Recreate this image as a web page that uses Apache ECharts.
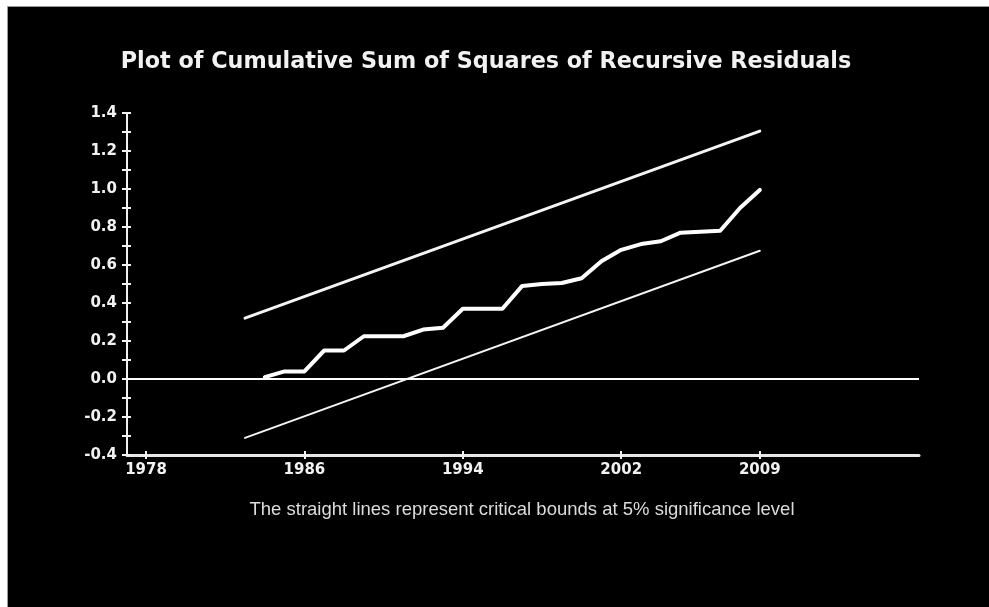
<!DOCTYPE html>
<html><head><meta charset="utf-8">
<script src="https://cdn.jsdelivr.net/npm/echarts@6/dist/echarts.min.js"></script>
<style>html,body{margin:0;padding:0;background:#fff}#c{width:989px;height:607px}</style>
</head><body><div id="c"></div>
<script>
// Data
const years = [1984,1985,1986,1987,1988,1989,1990,1991,1992,1993,1994,1995,1996,1997,1998,1999,2000,2001,2002,2003,2004,2005,2006,2007,2008,2009];
const cusumsq = [0.01,0.04,0.04,0.15,0.15,0.225,0.225,0.225,0.26,0.27,0.37,0.37,0.37,0.49,0.50,0.505,0.53,0.62,0.68,0.71,0.725,0.77,0.775,0.78,0.90,0.995];
const boundYears = [1983, 2009];
const upperBound = [0.32, 1.305];
const lowerBound = [-0.31, 0.675];
const xTickYears = [1978, 1986, 1994, 2002, 2009];
const yMin = -0.4, yMax = 1.4, yStep = 0.2;
const titleText = 'Plot of Cumulative Sum of Squares of Recursive Residuals';
const footText = 'The straight lines represent critical bounds at 5% significance level';

const FG = '#f2f2f2';
const gridBox = {left: 127, right: 70, top: 113, bottom: 152};
const xMin = 1977.04, xMax = 2017.04;

const pairs = (xs, ys) => xs.map((x, i) => [x, ys[i]]);

const chart = echarts.init(document.getElementById('c'), null, {renderer: 'canvas'});
const axisFont = {color: FG, fontFamily: 'DejaVu Sans', fontWeight: 'bold', fontSize: 15};

chart.setOption({
  backgroundColor: '#ffffff',
  animation: false,
  graphic: [{
    type: 'rect', left: 7, top: 6, z: -100,
    shape: {width: 982, height: 601},
    style: {fill: '#000', stroke: '#9a9a9a', lineWidth: 1}
  }],
  title: [{
    text: titleText, left: 481, textAlign: 'center', top: 46,
    textStyle: {color: FG, fontFamily: 'DejaVu Sans', fontWeight: 'bold', fontSize: 22.3}
  }, {
    text: footText, left: 517, textAlign: 'center', top: 495,
    textStyle: {color: '#dcdcdc', fontFamily: 'Liberation Sans', fontWeight: 'normal', fontSize: 18.5}
  }],
  grid: [Object.assign({}, gridBox), Object.assign({}, gridBox)],
  xAxis: [{
    gridIndex: 0, type: 'value', min: xMin, max: xMax,
    axisLine: {show: true, onZero: false, lineStyle: {color: '#e8e8e8', width: 3}},
    axisTick: {show: true, customValues: xTickYears, length: 4, lineStyle: {color: FG, width: 2}},
    axisLabel: Object.assign({show: true, customValues: xTickYears, margin: 8, formatter: v => String(Math.round(v))}, axisFont),
    splitLine: {show: false}
  }, {
    gridIndex: 1, type: 'value', min: xMin, max: xMax,
    axisLine: {show: false, onZero: false},
    axisTick: {show: true, inside: true, customValues: xTickYears, length: 4, lineStyle: {color: FG, width: 2}},
    axisLabel: {show: false},
    splitLine: {show: false}
  }],
  yAxis: [{
    gridIndex: 0, type: 'value', min: yMin, max: yMax, interval: yStep,
    axisLine: {show: true, onZero: false, lineStyle: {color: FG, width: 2}},
    axisTick: {show: true, length: 5, lineStyle: {color: FG, width: 2}},
    minorTick: {show: true, splitNumber: 2, length: 5, lineStyle: {color: FG, width: 2}},
    axisLabel: Object.assign({margin: 10, formatter: v => v.toFixed(1)}, axisFont),
    splitLine: {show: false}
  }, {
    gridIndex: 1, type: 'value', min: yMin, max: yMax, interval: yStep,
    axisLine: {show: false, onZero: false},
    axisTick: {show: true, inside: true, length: 4, lineStyle: {color: FG, width: 2}},
    minorTick: {show: true, splitNumber: 2, length: 4, lineStyle: {color: FG, width: 2}},
    axisLabel: {show: false},
    splitLine: {show: false}
  }],
  series: [{
    type: 'line', name: 'CUSUMSQ', xAxisIndex: 0, yAxisIndex: 0,
    data: pairs(years, cusumsq), showSymbol: false, symbol: 'none',
    lineStyle: {color: '#ffffff', width: 4, join: 'round', cap: 'round'},
    markLine: {
      silent: true, symbol: ['none', 'none'], label: {show: false},
      lineStyle: {color: '#ffffff', width: 2, type: 'solid'},
      data: [{yAxis: 0}]
    }
  }, {
    type: 'line', name: 'Upper bound', xAxisIndex: 0, yAxisIndex: 0,
    data: pairs(boundYears, upperBound), showSymbol: false, symbol: 'none',
    lineStyle: {color: '#f4f4f4', width: 3, cap: 'round'}
  }, {
    type: 'line', name: 'Lower bound', xAxisIndex: 0, yAxisIndex: 0,
    data: pairs(boundYears, lowerBound), showSymbol: false, symbol: 'none',
    lineStyle: {color: '#f4f4f4', width: 2, cap: 'round'}
  }]
});
</script>
</body></html>
